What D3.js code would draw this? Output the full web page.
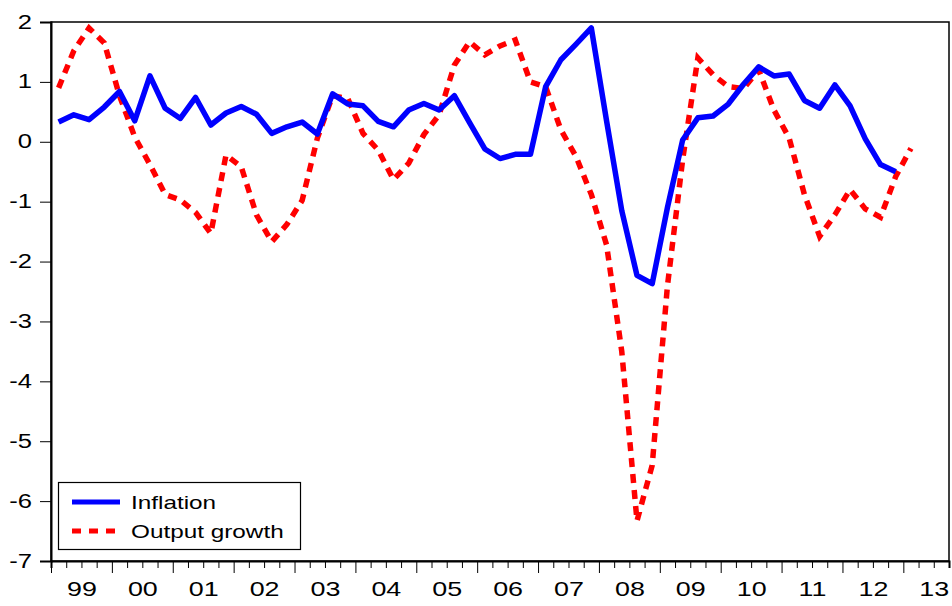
<!DOCTYPE html>
<head>
	<meta charset="utf-8">
	<title>Inflation and output growth</title>
	<script src="https://cdn.jsdelivr.net/npm/d3@7"></script>
	<style>
		body { margin: 0; background: #fff; }
		.axis text { font-family: "Liberation Sans", Arial, sans-serif; fill: #000; }
		.axis path, .axis line { stroke: #000; }
	</style>
</head>
<body>
	<div id="chart"></div>
	<script>
		// quarterly data, 1999Q1 onwards
		var startYear = 1999;
		var yearLabels = ["99", "00", "01", "02", "03", "04", "05", "06", "07", "08", "09", "10", "11", "12", "13"];
		var yTicks = [-7, -6, -5, -4, -3, -2, -1, 0, 1, 2];

		var inflation = [0.33, 0.45, 0.37, 0.58, 0.84, 0.35, 1.10, 0.56, 0.39, 0.74,
			0.28, 0.48, 0.59, 0.46, 0.14, 0.25, 0.33, 0.13, 0.80, 0.63,
			0.60, 0.34, 0.25, 0.53, 0.64, 0.53, 0.77, 0.32, -0.12, -0.28,
			-0.21, -0.21, 0.92, 1.37, 1.63, 1.90, 0.35, -1.15, -2.23, -2.37,
			-1.10, 0.03, 0.40, 0.43, 0.63, 0.96, 1.25, 1.10, 1.13, 0.69,
			0.56, 0.95, 0.60, 0.05, -0.38, -0.50];

		var outputGrowth = [0.90, 1.52, 1.90, 1.65, 0.77, 0.08, -0.38, -0.88, -0.97, -1.18,
			-1.53, -0.22, -0.42, -1.22, -1.67, -1.38, -0.98, 0.06, 0.77, 0.72,
			0.14, -0.14, -0.63, -0.36, 0.12, 0.45, 1.28, 1.67, 1.45, 1.60,
			1.70, 1.00, 0.92, 0.20, -0.25, -0.88, -1.72, -3.50, -6.33, -5.40,
			-2.41, -0.30, 1.40, 1.12, 0.92, 0.89, 1.20, 0.53, 0.06, -0.88,
			-1.58, -1.22, -0.80, -1.12, -1.26, -0.58, -0.11];

		var nQuarters = 59;

		var width = 952,
			height = 606,
			margin = {top: 22, right: 3, bottom: 45, left: 51};

		// the original text is a bit wider than Arial
		var stretch = 1.28;

		var svg = d3.select("#chart")
			.append("svg")
			.attr("width", width)
			.attr("height", height);

		var x = d3.scaleLinear()
			.domain([0, nQuarters])
			.range([margin.left, width - margin.right]);

		var y = d3.scaleLinear()
			.domain([-7, 2])
			.range([height - margin.bottom, margin.top]);

		// frame
		svg.append("rect")
			.attr("x", x(0))
			.attr("y", y(2))
			.attr("width", x(nQuarters) - x(0))
			.attr("height", y(-7) - y(2))
			.attr("fill", "none")
			.attr("stroke", "#000")
			.attr("stroke-width", 1.5);

		// y axis
		var yAxis = svg.append("g")
			.attr("class", "axis")
			.attr("transform", "translate(" + x(0) + ",0)")
			.call(d3.axisLeft(y).tickValues(yTicks).tickSize(11).tickPadding(8)
				.tickFormat(function(d) { return String(d); }));
		yAxis.select(".domain").attr("stroke-width", 2);
		yAxis.selectAll("text")
			.attr("font-size", 20)
			.attr("dy", "0.3em")
			.attr("x", 0)
			.attr("transform", "translate(-19,0) scale(" + stretch + ",1)");

		// x axis: quarter ticks, year ticks, labels in mid year
		var quarters = d3.range(0, nQuarters).filter(function(q) { return q % 4 != 0; });
		var years = d3.range(0, nQuarters, 4);
		var bottom = y(-7);

		var xMinor = svg.append("g")
			.attr("class", "axis")
			.attr("transform", "translate(0," + bottom + ")")
			.call(d3.axisBottom(x).tickValues(quarters).tickSize(7).tickFormat(""));
		xMinor.select(".domain").attr("stroke-width", 2);

		svg.append("g")
			.attr("class", "axis")
			.attr("transform", "translate(0," + bottom + ")")
			.call(d3.axisBottom(x).tickValues(years).tickSize(12).tickFormat(""))
			.select(".domain").remove();

		var xLabels = svg.append("g")
			.attr("class", "axis")
			.attr("transform", "translate(0," + bottom + ")")
			.call(d3.axisBottom(x)
				.tickValues(years.map(function(q) { return q + 2; }))
				.tickSize(0)
				.tickPadding(20)
				.tickFormat(function(d, i) { return yearLabels[i]; }));
		xLabels.select(".domain").remove();
		xLabels.selectAll("text")
			.attr("font-size", 21)
			.attr("transform", "scale(" + stretch + ",1)");

		// lines, points in the middle of each quarter
		var line = d3.line()
			.x(function(d, i) { return x(i + 0.5); })
			.y(function(d) { return y(d); });

		svg.append("path")
			.datum(outputGrowth)
			.attr("d", line)
			.attr("fill", "none")
			.attr("stroke", "#ff0000")
			.attr("stroke-width", 5.5)
			.attr("stroke-dasharray", "9,7");

		svg.append("path")
			.datum(inflation)
			.attr("d", line)
			.attr("fill", "none")
			.attr("stroke", "#0000ff")
			.attr("stroke-width", 5.5)
			.attr("stroke-linejoin", "round");

		// legend
		var legend = svg.append("g");
		legend.append("rect")
			.attr("x", 58.5)
			.attr("y", 482.5)
			.attr("width", 242)
			.attr("height", 67)
			.attr("fill", "#fff")
			.attr("stroke", "#000")
			.attr("stroke-width", 1.2);

		var items = [
			{name: "Inflation", color: "#0000ff", dash: null, ly: 502},
			{name: "Output growth", color: "#ff0000", dash: "9,8", ly: 531}
		];
		items.forEach(function(d) {
			legend.append("line")
				.attr("x1", 72)
				.attr("x2", 120)
				.attr("y1", d.ly)
				.attr("y2", d.ly)
				.attr("stroke", d.color)
				.attr("stroke-width", 5)
				.attr("stroke-dasharray", d.dash);
			legend.append("text")
				.attr("transform", "translate(131," + (d.ly + 7) + ") scale(" + stretch + ",1)")
				.attr("font-family", "Liberation Sans, Arial, sans-serif")
				.attr("font-size", 19)
				.attr("fill", "#000")
				.text(d.name);
		});
	</script>
</body>
